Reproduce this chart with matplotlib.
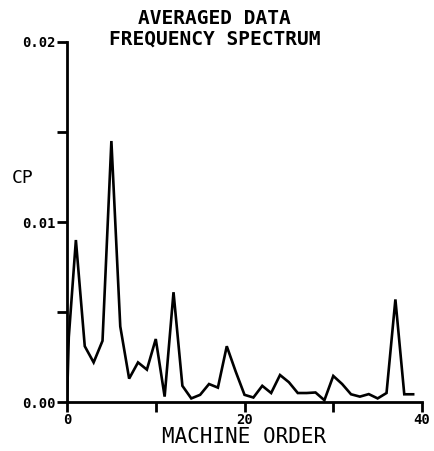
import numpy as np
from matplotlib import pyplot as plt

# machine order (harmonic) and averaged CP amplitude
order = [0, 0.2, 1, 2, 3, 4, 5, 6, 7, 8, 9, 10, 11, 12, 13, 14, 15, 16, 17, 18, 19,
         20, 21, 22, 23, 24, 25, 26, 27, 28, 29, 30, 31, 32, 33, 34, 35, 36, 37, 38, 39]
cp = [0.0, 0.0036, 0.0090, 0.0031, 0.0022, 0.0034, 0.0145, 0.0042, 0.0013, 0.0022,
      0.0018, 0.0035, 0.0003, 0.0061, 0.0009, 0.0002, 0.0004, 0.0010, 0.0008, 0.0031,
      0.0017, 0.0004, 0.00025, 0.0009, 0.0005, 0.0015, 0.0011, 0.0005, 0.0005, 0.00053,
      0.0001, 0.00145, 0.0010, 0.00043, 0.0003, 0.00044, 0.0002, 0.0005, 0.0057,
      0.00043, 0.00043]

major_x = [0, 20, 40]
minor_x = [10, 30]
major_y = [0.0, 0.01, 0.02]
minor_y = [0.005, 0.015]

font = 'DejaVu Sans Mono'

fig = plt.figure(figsize=(4.34, 4.51), dpi=100)
ax = fig.add_axes([0.1544, 0.1086, 0.818, 0.7983])

ax.plot(order, cp, color='black', lw=1.9, solid_joinstyle='miter')

ax.set_xlim(0, 40)
ax.set_ylim(0, 0.02)
ax.spines['top'].set_visible(False)
ax.spines['right'].set_visible(False)
ax.spines['left'].set_linewidth(2.0)
ax.spines['bottom'].set_linewidth(2.0)

ax.set_xticks(major_x)
ax.set_xticklabels([str(v) for v in major_x])
ax.set_xticks(minor_x, minor=True)
ax.set_yticks(major_y)
ax.set_yticklabels(['%.2f' % v for v in major_y])
ax.set_yticks(minor_y, minor=True)
ax.tick_params(which='both', direction='out', length=7, width=2.0, pad=1)
for lab in ax.get_xticklabels() + ax.get_yticklabels():
    lab.set_fontfamily(font)
    lab.set_fontweight('bold')
    lab.set_fontsize(10)

ax.set_xlabel('MACHINE ORDER', fontfamily=font, fontsize=15, labelpad=0)
fig.text(0.028, 0.605, 'CP', fontfamily=font, fontsize=13,
         ha='left', va='center')

fig.text(0.495, 0.936, 'AVERAGED DATA\nFREQUENCY SPECTRUM', ha='center',
         va='center', fontfamily=font, fontsize=14, fontweight='bold',
         linespacing=1.1)

plt.savefig('out.png', dpi=100)
